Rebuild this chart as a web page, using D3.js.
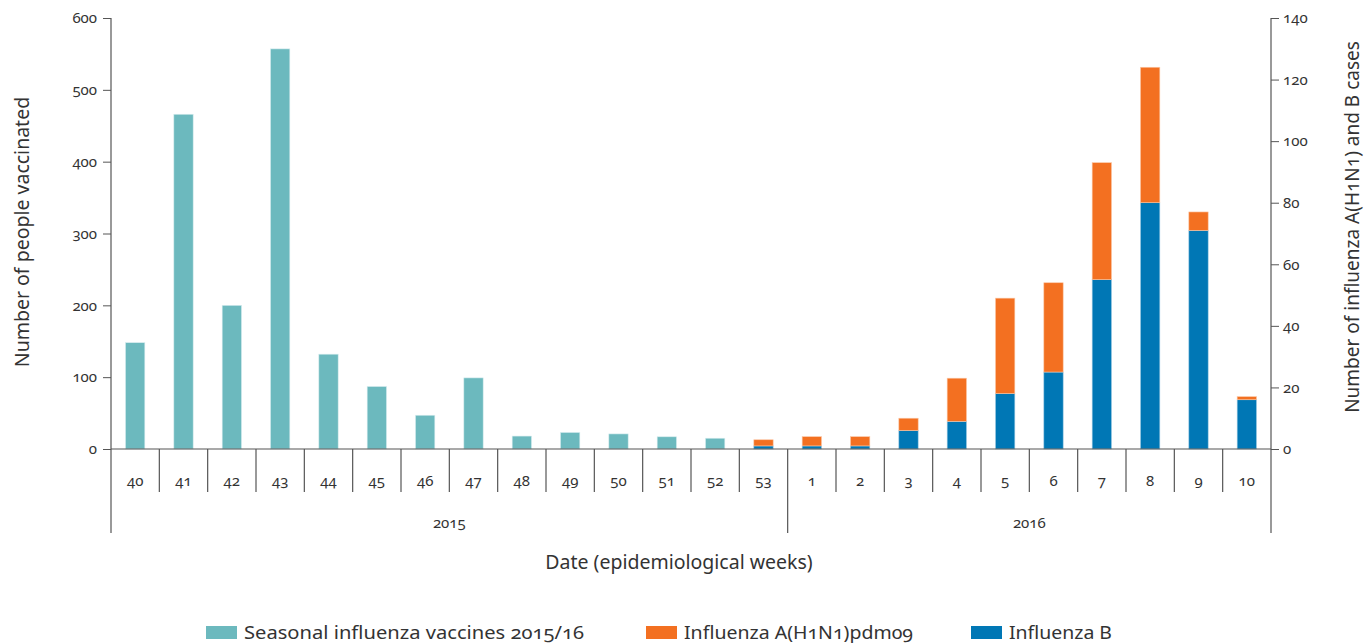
<!DOCTYPE html>
<html><head><meta charset="utf-8">
<script src="https://cdn.jsdelivr.net/npm/d3@7/dist/d3.min.js"></script>
<style>
body{margin:0;background:#fff;}
text{font-family:"Noto Sans","Open Sans",sans-serif;fill:#333;}
.num{font-variant-numeric:oldstyle-nums;}
</style></head>
<body><svg id="c" width="1372" height="644"></svg>
<script>
const weeks = ["40","41","42","43","44","45","46","47","48","49","50","51","52","53","1","2","3","4","5","6","7","8","9","10"];
const yearLabels = ["2015","2016"];
const yearFirstWeek = ["40","1"];
const yearLastWeek = ["53","10"];
const vaccinated = [148,466,200,557,132,87,47,99,18,23,21,17,15,0,0,0,0,0,0,0,0,0,0,0];
const fluA = [0,0,0,0,0,0,0,0,0,0,0,0,0,2,3,3,4,14,31,29,38,44,6,1];
const fluB = [0,0,0,0,0,0,0,0,0,0,0,0,0,1,1,1,6,9,18,25,55,80,71,16];
const leftTicks = [0,100,200,300,400,500,600];
const rightTicks = [0,20,40,60,80,100,120,140];
const legendLabels = ["Seasonal influenza vaccines 2015/16","Influenza A(H1N1)pdm09","Influenza B"];

const colors = {vacc:"#6cb9be", a:"#f37021", b:"#0077b5"};
const legendColors = [colors.vacc, colors.a, colors.b];
const legendX = [206, 646, 971];
const legendW = [340, 229, 103];
const axisColor = "#555";

const svg = d3.select("#c");
const L = 111, R = 1271, T = 18, B = 449;
const idx = d3.range(weeks.length);
const x = d3.scaleBand().domain(idx).range([L,R]).paddingInner(0.6).paddingOuter(0.3);
const xb = d3.scaleBand().domain(idx).range([L,R]).padding(0);
const yL = d3.scaleLinear().domain([0,600]).range([B,T]);
const yR = d3.scaleLinear().domain([0,140]).range([B,T]);

// vaccination bars
svg.append("g").selectAll("rect").data(idx.filter(i=>vaccinated[i]>0)).join("rect")
  .attr("x",i=>x(i)).attr("width",x.bandwidth())
  .attr("y",i=>yL(vaccinated[i])).attr("height",i=>yL(0)-yL(vaccinated[i]))
  .attr("fill",colors.vacc).attr("stroke","#d6ecee").attr("stroke-width",0.6);

// stacked influenza bars
const stackData = idx.map(i=>({i, b:fluB[i], a:fluA[i]}));
const series = d3.stack().keys(["b","a"])(stackData);
svg.append("g").selectAll("g").data(series).join("g")
  .attr("fill",d=>d.key==="a"?colors.a:colors.b)
  .attr("stroke",d=>d.key==="a"?"#fbc7a6":"#9fcbe3").attr("stroke-width",0.6)
  .selectAll("rect").data(d=>d.filter(s=>s[1]-s[0]>0)).join("rect")
  .attr("x",d=>x(d.data.i)).attr("width",x.bandwidth())
  .attr("y",d=>yR(d[1])).attr("height",d=>yR(d[0])-yR(d[1]));

// left axis
const gL = svg.append("g").attr("transform",`translate(${L},0)`)
  .call(d3.axisLeft(yL).tickValues(leftTicks).tickSize(8).tickPadding(6));
gL.select(".domain").remove();
gL.selectAll("line").attr("stroke",axisColor);
gL.selectAll("text").attr("class","num").style("font-size","15px").attr("fill","#333");
svg.append("line").attr("x1",L).attr("x2",L).attr("y1",T).attr("y2",533).attr("stroke",axisColor).attr("stroke-width",1.2);

// right axis
const gR = svg.append("g").attr("transform",`translate(${R},0)`)
  .call(d3.axisRight(yR).tickValues(rightTicks).tickSize(8).tickPadding(4));
gR.select(".domain").remove();
gR.selectAll("line").attr("stroke",axisColor);
gR.selectAll("text").attr("class","num").style("font-size","15px").attr("fill","#333");
svg.append("line").attr("x1",R).attr("x2",R).attr("y1",T).attr("y2",533).attr("stroke",axisColor).attr("stroke-width",1.2);

// x baseline
svg.append("line").attr("x1",L).attr("x2",R).attr("y1",B).attr("y2",B).attr("stroke",axisColor).attr("stroke-width",1.2);

// category separators
const yearStartIdx = yearFirstWeek.map(w=>weeks.indexOf(w));
const yearEndIdx = yearLastWeek.map(w=>weeks.indexOf(w));
const bounds = d3.range(1,weeks.length);
svg.append("g").selectAll("line").data(bounds).join("line")
  .attr("x1",i=>xb(i)).attr("x2",i=>xb(i)).attr("y1",B)
  .attr("y2",i=> yearStartIdx.includes(i) ? 533 : 492)
  .attr("stroke",axisColor).attr("stroke-width",1.2);

// week labels
svg.append("g").selectAll("text").data(idx).join("text")
  .attr("class","num")
  .attr("x",i=>xb(i)+xb.bandwidth()/2).attr("y",486)
  .attr("text-anchor","middle").style("font-size","15px")
  .text(i=>weeks[i]);

// year labels
svg.append("g").selectAll("text").data(yearLabels).join("text")
  .attr("class","num")
  .attr("x",(d,k)=>(xb(yearStartIdx[k])+xb(yearEndIdx[k])+xb.bandwidth())/2).attr("y",528)
  .attr("text-anchor","middle").style("font-size","15px")
  .text(d=>d);

// axis titles
svg.append("text").attr("transform",`translate(29,232) rotate(-90)`)
  .attr("text-anchor","middle").style("font-size","19.5px").text("Number of people vaccinated");
svg.append("text").attr("class","num").attr("transform",`translate(1359,227) rotate(-90)`)
  .attr("text-anchor","middle").style("font-size","19px").text("Number of influenza A(H1N1) and B cases");
svg.append("text").attr("x",679).attr("y",569)
  .attr("text-anchor","middle").style("font-size","19.5px").text("Date (epidemiological weeks)");

// legend
const lg = svg.append("g").selectAll("g").data(legendLabels).join("g")
  .attr("transform",(d,k)=>`translate(${legendX[k]},626)`);
lg.append("rect").attr("width",31).attr("height",13).attr("fill",(d,k)=>legendColors[k]);
lg.append("text").attr("class","num").attr("x",38).attr("y",13)
  .style("font-size","18px")
  .attr("textLength",(d,k)=>legendW[k]).attr("lengthAdjust","spacingAndGlyphs")
  .text(d=>d);
</script></body></html>
